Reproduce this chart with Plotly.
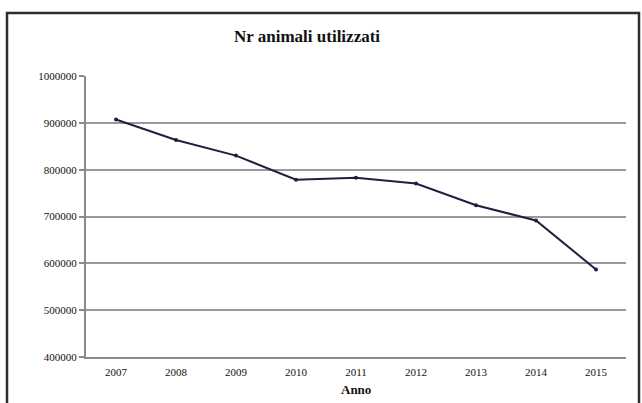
import plotly.graph_objects as go

years = ["2007", "2008", "2009", "2010", "2011", "2012", "2013", "2014", "2015"]
animals = [907000, 863500, 830000, 778500, 782500, 770500, 724000, 691500, 587000]
y_ticks = [400000, 500000, 600000, 700000, 800000, 900000, 1000000]

W, H = 642, 403
L, R, T, B = 86, 16, 76, 46
pw, ph = W - L - R, H - T - B

def px(x):
    return (x - L) / pw

def py(y):
    return (H - B - y) / ph

fig = go.Figure()
fig.add_trace(go.Scatter(
    x=years, y=animals, mode="lines+markers",
    line=dict(color="#1b2140", width=2),
    marker=dict(color="#1b2140", size=4),
    showlegend=False, hoverinfo="skip"))

serif = "Liberation Serif"
fig.update_layout(
    width=W, height=H,
    margin=dict(l=L, r=R, t=T, b=B),
    paper_bgcolor="white", plot_bgcolor="white",
    xaxis=dict(type="category", range=[-0.5, 8.5], showgrid=False,
               showline=True, linecolor="#8a8a8a", linewidth=2,
               ticks="", tickfont=dict(family=serif, size=11, color="#111"),
               ticklabelstandoff=4),
    yaxis=dict(range=[400000, 1000000], tickvals=y_ticks,
               ticktext=[str(v) for v in y_ticks],
               showgrid=True, gridcolor="#9a9a9a", gridwidth=2,
               showline=True, linecolor="#8a8a8a", linewidth=2,
               ticks="outside", ticklen=5, tickcolor="#8a8a8a", tickwidth=1.5,
               tickfont=dict(family=serif, size=11, color="#111"),
               zeroline=False),
    annotations=[
        dict(text="<b>Nr animali utilizzati</b>", x=px(307), y=py(37),
             xref="paper", yref="paper", showarrow=False,
             xanchor="center", yanchor="middle",
             font=dict(family=serif, size=17, color="#111")),
        dict(text="<b>Anno</b>", x=px(356), y=py(389),
             xref="paper", yref="paper", showarrow=False,
             xanchor="center", yanchor="middle",
             font=dict(family=serif, size=13, color="#111")),
    ],
    shapes=[dict(type="rect", xref="paper", yref="paper",
                 x0=px(7), x1=px(639), y0=py(410), y1=py(13),
                 line=dict(color="#2e2e2e", width=2.5))],
)

fig.write_html("out.html")
